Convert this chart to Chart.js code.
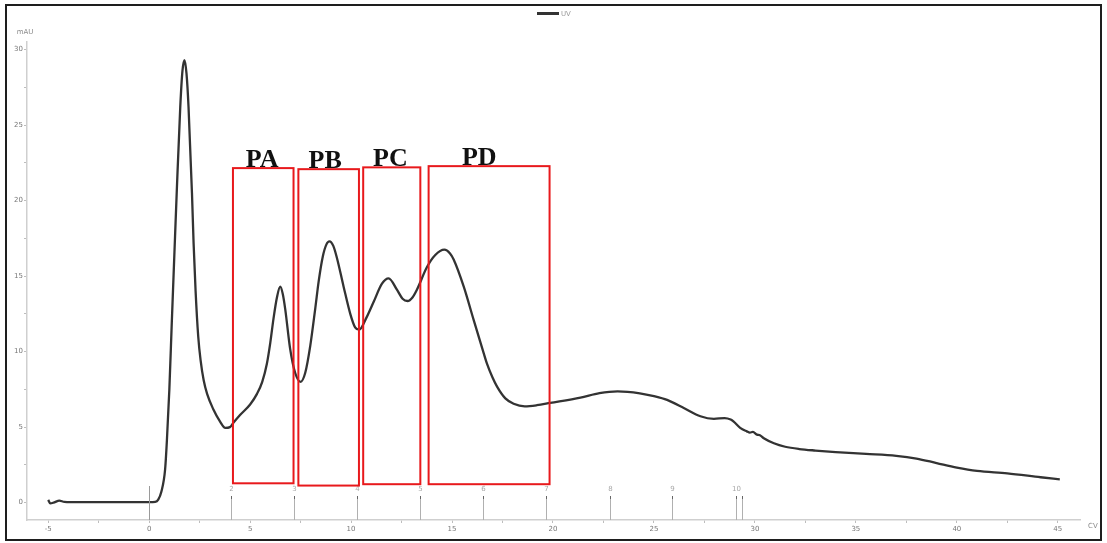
<!DOCTYPE html>
<html>
<head>
<meta charset="utf-8">
<script src="https://cdn.jsdelivr.net/npm/chart.js@4.4.1/dist/chart.umd.min.js"></script>
<style>
  html, body { margin: 0; padding: 0; background: #fff; }
  #box { position: relative; width: 1107px; height: 543px; }
</style>
</head>
<body>
<div id="box"><canvas id="grafico" width="1107" height="543"></canvas></div>
<script>
var cvValues = [-5.0, -4.9, -4.7, -4.45, -4.2, -3.5, -2, -1, 0, 0.3, 0.45, 0.6, 0.79, 0.88, 1.0, 1.12, 1.25, 1.37, 1.54, 1.65, 1.75, 1.85, 1.95, 2.12, 2.2, 2.3, 2.43, 2.55, 2.7, 2.87, 3.17, 3.52, 3.77, 4.0, 4.18, 4.5, 5.0, 5.34, 5.6, 5.83, 6.0, 6.16, 6.33, 6.49, 6.62, 6.74, 6.98, 7.23, 7.5, 7.73, 7.98, 8.23, 8.4, 8.6, 8.78, 8.93, 9.12, 9.3, 9.63, 9.96, 10.2, 10.4, 10.78, 11.12, 11.53, 11.86, 12.27, 12.55, 12.8, 13.05, 13.26, 13.76, 14.17, 14.62, 14.9, 15.08, 15.58, 16.07, 16.5, 16.73, 17.0, 17.23, 17.64, 18.05, 18.6, 19.2, 19.86, 21.36, 22.3, 23.2, 24.3, 25.0, 25.65, 26.5, 27.3, 27.97, 28.5, 28.8, 28.95, 29.27, 29.6, 29.75, 29.9, 30.1, 30.25, 30.44, 30.94, 31.5, 32.2, 33, 34, 35.5, 37, 38, 39, 40, 41, 42.5, 44.15, 45.1];
var uvValues = [0.18, -0.05, 0.02, 0.13, 0.05, 0.03, 0.03, 0.03, 0.03, 0.05, 0.2, 0.7, 2.2, 4.15, 7.5, 11.9, 16.5, 20.7, 26.2, 28.6, 29.3, 28.4, 26.2, 20.5, 17.2, 14.0, 11.0, 9.4, 8.1, 7.2, 6.2, 5.35, 4.95, 5.0, 5.3, 5.8, 6.5, 7.2, 8.0, 9.2, 10.6, 12.2, 13.6, 14.3, 13.8, 12.8, 10.2, 8.6, 8.0, 8.6, 10.4, 12.9, 14.7, 16.3, 17.1, 17.3, 17.0, 16.2, 14.3, 12.5, 11.6, 11.45, 12.3, 13.3, 14.5, 14.85, 14.1, 13.5, 13.35, 13.6, 14.1, 15.6, 16.4, 16.75, 16.5, 16.1, 14.3, 12.1, 10.2, 9.2, 8.3, 7.68, 6.9, 6.55, 6.38, 6.45, 6.6, 6.95, 7.25, 7.37, 7.24, 7.05, 6.8, 6.25, 5.72, 5.55, 5.6, 5.5, 5.36, 4.95, 4.72, 4.64, 4.68, 4.5, 4.46, 4.26, 3.93, 3.7, 3.55, 3.45, 3.35, 3.23, 3.1, 2.92, 2.62, 2.32, 2.1, 1.94, 1.68, 1.54];

// frações coletadas (marcadores embaixo)
var fractionCv = [4.06, 7.19, 10.3, 13.43, 16.55, 19.67, 22.8, 25.9, 29.05, 29.34];
var fractionLabels = ['2', '3', '4', '5', '6', '7', '8', '9', '10', ''];
var injectionCv = [0];

// caixas vermelhas PA..PD
var boxNames = ['PA', 'PB', 'PC', 'PD'];
var boxStartCv = [4.15, 7.39, 10.6, 13.84];
var boxEndCv = [7.15, 10.39, 13.43, 19.83];
var boxTopUv = [22.15, 22.08, 22.2, 22.28];
var boxBottomUv = [1.28, 1.13, 1.22, 1.22];
var boxLabelCv = [5.6, 8.72, 11.95, 16.35];

var pontos = [];
for (var i = 0; i < cvValues.length; i++) {
  pontos.push({ x: cvValues[i], y: uvValues[i] });
}

// desenha moldura, legenda, frações, caixas e textos dos eixos
var extras = {
  id: 'extras',
  beforeDraw: function (chart) {
    var ctx = chart.ctx;
    ctx.save();
    ctx.fillStyle = '#fff';
    ctx.fillRect(0, 0, chart.width, chart.height);
    ctx.restore();
  },
  afterDatasetsDraw: function (chart) {
    var ctx = chart.ctx;
    var x = chart.scales.x;
    var y = chart.scales.y;
    var base = chart.chartArea.bottom;
    ctx.save();

    // injeção
    ctx.strokeStyle = '#9a9a9a';
    ctx.lineWidth = 1;
    injectionCv.forEach(function (v) {
      var px = Math.round(x.getPixelForValue(v)) + 0.5;
      ctx.beginPath();
      ctx.moveTo(px, base);
      ctx.lineTo(px, base - 34);
      ctx.stroke();
    });

    // frações
    ctx.font = '7px "DejaVu Sans"';
    ctx.textAlign = 'center';
    ctx.textBaseline = 'middle';
    fractionCv.forEach(function (v, k) {
      var px = Math.round(x.getPixelForValue(v)) + 0.5;
      ctx.strokeStyle = '#b0b0b0';
      ctx.beginPath();
      ctx.moveTo(px, base);
      ctx.lineTo(px, base - 24);
      ctx.stroke();
      ctx.strokeStyle = '#666';
      ctx.beginPath();
      ctx.moveTo(px, base - 24);
      ctx.lineTo(px, base - 21);
      ctx.stroke();
      ctx.fillStyle = '#a8a8a8';
      ctx.fillText(fractionLabels[k], px, base - 31);
    });

    // caixas
    ctx.strokeStyle = '#e8191c';
    ctx.lineWidth = 2;
    for (var k = 0; k < boxNames.length; k++) {
      var x0 = x.getPixelForValue(boxStartCv[k]);
      var x1 = x.getPixelForValue(boxEndCv[k]);
      var y0 = y.getPixelForValue(boxTopUv[k]);
      var y1 = y.getPixelForValue(boxBottomUv[k]);
      ctx.strokeRect(x0, y0, x1 - x0, y1 - y0);
      ctx.fillStyle = '#111';
      ctx.font = 'bold 26px "Liberation Serif"';
      ctx.textBaseline = 'alphabetic';
      ctx.fillText(boxNames[k], x.getPixelForValue(boxLabelCv[k]), y0 - 1);
    }

    // textos dos eixos
    ctx.fillStyle = '#8a8a8a';
    ctx.font = '7px "DejaVu Sans"';
    ctx.textBaseline = 'middle';
    ctx.fillText('mAU', chart.chartArea.left - 2, chart.chartArea.top - 10);
    ctx.textAlign = 'left';
    ctx.fillText('CV', chart.chartArea.right + 8, base + 6);

    // legenda
    var ds = chart.data.datasets[0];
    ctx.strokeStyle = ds.borderColor;
    ctx.lineWidth = 3;
    ctx.beginPath();
    ctx.moveTo(537, 13.5);
    ctx.lineTo(559, 13.5);
    ctx.stroke();
    ctx.fillStyle = '#9a9a9a';
    ctx.fillText(ds.label, 561, 14);

    // moldura
    ctx.strokeStyle = '#1e1e1e';
    ctx.lineWidth = 2;
    ctx.strokeRect(6, 5, 1095, 535);
    ctx.restore();
  }
};

var config = {
  type: 'line',
  data: {
    datasets: [{
      label: 'UV',
      data: pontos,
      borderColor: '#333333',
      backgroundColor: '#333333',
      borderWidth: 2.3,
      pointRadius: 0,
      cubicInterpolationMode: 'monotone',
      fill: false
    }]
  },
  options: {
    responsive: false,
    animation: false,
    layout: { padding: { left: 0, right: 27, top: 42, bottom: 0 } },
    plugins: {
      legend: { display: false },
      tooltip: { enabled: false }
    },
    scales: {
      x: {
        type: 'linear',
        min: -6.05,
        max: 46.1,
        afterFit: function (s) { s.height = 23; },
        border: { color: '#cfcfcf', width: 1.5 },
        grid: { drawOnChartArea: false, tickLength: 3, color: '#bdbdbd' },
        ticks: {
          stepSize: 2.5,
          includeBounds: false,
          autoSkip: false,
          maxRotation: 0,
          padding: 2,
          color: '#777',
          font: { size: 7, family: 'DejaVu Sans' },
          callback: function (v) { return v % 5 === 0 ? v : ''; }
        }
      },
      y: {
        type: 'linear',
        min: -1.15,
        max: 30.5,
        afterFit: function (s) { s.width = 27; },
        border: { color: '#cfcfcf', width: 1.5 },
        grid: { drawOnChartArea: false, tickLength: 3, color: '#bdbdbd' },
        ticks: {
          stepSize: 2.5,
          includeBounds: false,
          autoSkip: false,
          padding: 1,
          color: '#777',
          font: { size: 7, family: 'DejaVu Sans' },
          callback: function (v) { return v % 5 === 0 ? v : ''; }
        }
      }
    }
  },
  plugins: [extras]
};

var meuGrafico = new Chart(document.getElementById('grafico'), config);
</script>
</body>
</html>
